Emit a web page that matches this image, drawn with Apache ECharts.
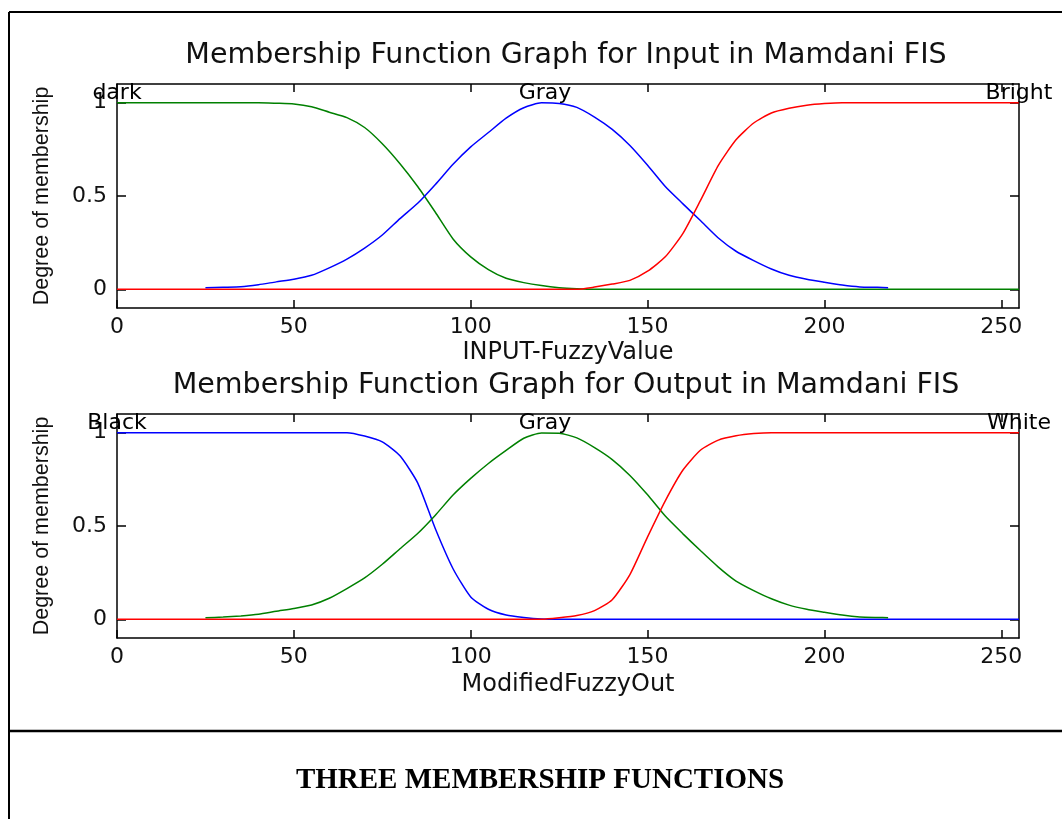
<!DOCTYPE html>
<html>
<head>
<meta charset="utf-8">
<title>Three membership functions</title>
<script src="https://cdn.jsdelivr.net/npm/echarts@6/dist/echarts.min.js"></script>
<style>
  html, body { margin: 0; padding: 0; background: #ffffff; }
  #chart { width: 1062px; height: 819px; }
</style>
</head>
<body>
<div id="chart"></div>
<script>
// Sample positions on the 0..255 intensity range
const xFull = [0, 5, 10, 15, 20, 25, 30, 35, 40, 45, 50, 55, 60, 65, 70, 75, 80, 85, 90, 95,
  100, 105, 110, 115, 120, 125, 130, 135, 140, 145, 150, 155, 160, 165, 170, 175, 180, 185, 190, 195,
  200, 205, 210, 215, 220, 225, 230, 235, 240, 245, 250, 255];
// The middle ("Gray") function is only defined over part of the range
const xGray = [25, 30, 35, 40, 45, 50, 55, 60, 65, 70, 75, 80, 85, 90, 95, 100, 105, 110, 115, 120,
  125, 130, 135, 140, 145, 150, 155, 160, 165, 170, 175, 180, 185, 190, 195, 200, 205, 210, 215, 218];

// Input FIS memberships
const darkIn = [1, 1, 1, 1, 1, 1, 1, 1, 1, 0.997, 0.993, 0.978, 0.949, 0.92, 0.867, 0.78, 0.673, 0.551, 0.413, 0.27,
  0.174, 0.106, 0.059, 0.036, 0.02, 0.009, 0.003, 0, 0, 0, 0, 0, 0, 0, 0, 0, 0, 0, 0, 0,
  0, 0, 0, 0, 0, 0, 0, 0, 0, 0, 0, 0];
const grayIn = [0.008, 0.011, 0.014, 0.025, 0.04, 0.054, 0.075, 0.115, 0.162, 0.221, 0.291, 0.379, 0.461, 0.562, 0.67, 0.763, 0.84, 0.917, 0.973, 0.999,
  0.996, 0.975, 0.923, 0.857, 0.771, 0.665, 0.551, 0.458, 0.367, 0.275, 0.204, 0.154, 0.109, 0.075, 0.054, 0.038, 0.023, 0.013, 0.011, 0.009];
const brightIn = [0, 0, 0, 0, 0, 0, 0, 0, 0, 0, 0, 0, 0, 0, 0, 0, 0, 0, 0, 0,
  0, 0, 0, 0, 0, 0, 0, 0.012, 0.028, 0.048, 0.097, 0.174, 0.3, 0.478, 0.664, 0.801, 0.891, 0.945, 0.97, 0.986,
  0.995, 1, 1, 1, 1, 1, 1, 1, 1, 1, 1, 1];

// Output FIS memberships
const blackOut = [1, 1, 1, 1, 1, 1, 1, 1, 1, 1, 1, 1, 1, 1, 0.982, 0.951, 0.876, 0.731, 0.485, 0.271,
  0.12, 0.054, 0.023, 0.01, 0.002, 0, 0, 0, 0, 0, 0, 0, 0, 0, 0, 0, 0, 0, 0, 0,
  0, 0, 0, 0, 0, 0, 0, 0, 0, 0, 0, 0];
const grayOut = [0.009, 0.012, 0.018, 0.027, 0.043, 0.058, 0.077, 0.113, 0.165, 0.222, 0.295, 0.378, 0.46, 0.558, 0.666, 0.755, 0.835, 0.905, 0.97, 0.998,
  0.997, 0.972, 0.92, 0.856, 0.771, 0.667, 0.553, 0.458, 0.367, 0.28, 0.205, 0.154, 0.11, 0.076, 0.054, 0.038, 0.023, 0.013, 0.01, 0.009];
const whiteOut = [0, 0, 0, 0, 0, 0, 0, 0, 0, 0, 0, 0, 0, 0, 0, 0, 0, 0, 0, 0,
  0, 0, 0, 0, 0, 0.008, 0.02, 0.047, 0.105, 0.24, 0.442, 0.635, 0.8, 0.907, 0.96, 0.983, 0.995, 1, 1, 1,
  1, 1, 1, 1, 1, 1, 1, 1, 1, 1, 1, 1];

// Function names, written at each function's peak
const labelsIn = ['dark', 'Gray', 'Bright'];
const labelsOut = ['Black', 'Gray', 'White'];
const peaks = [0, 121, 255];

// Axis ticks
const xTicks = [0, 50, 100, 150, 200, 250];
const yTicks = [0, 0.5, 1];

const titles = ['Membership Function Graph for Input in Mamdani FIS',
  'Membership Function Graph for Output in Mamdani FIS'];
const xNames = ['INPUT-FuzzyValue', 'ModifiedFuzzyOut'];
const yName = 'Degree of membership';
const caption = 'THREE MEMBERSHIP FUNCTIONS';

const GREEN = '#008000', BLUE = '#0000ff', RED = '#ff0000';
const INK = '#111111';
const SANS = 'DejaVu Sans';

const pairs = (xs, ys) => xs.map((x, i) => [x, ys[i]]);

const boxLine = { show: true, onZero: false, lineStyle: { color: '#000', width: 1.5 } };
const tickStyle = { color: '#000', width: 1.5 };

function xAxes(grid, name, gap) {
  return [
    {
      type: 'value', gridIndex: grid, position: 'bottom', min: 0, max: 255,
      axisLine: boxLine,
      axisTick: { show: true, inside: true, length: 8, customValues: xTicks, lineStyle: tickStyle },
      axisLabel: { customValues: xTicks, margin: 8, fontFamily: SANS, fontSize: 22, color: INK },
      splitLine: { show: false },
      name: name, nameLocation: 'middle', nameGap: gap,
      nameTextStyle: { fontFamily: SANS, fontSize: 24, color: INK }
    },
    {
      type: 'value', gridIndex: grid, position: 'top', min: 0, max: 255,
      axisLine: boxLine,
      axisTick: { show: true, inside: true, length: 8, customValues: xTicks, lineStyle: tickStyle },
      axisLabel: { show: false },
      splitLine: { show: false }
    }
  ];
}

function yAxes(grid) {
  return [
    {
      type: 'value', gridIndex: grid, position: 'left', min: -0.1, max: 1.1,
      axisLine: boxLine,
      axisTick: { show: true, inside: true, length: 9, customValues: yTicks, lineStyle: tickStyle },
      axisLabel: { customValues: yTicks, margin: 10, fontFamily: SANS, fontSize: 22, color: INK },
      splitLine: { show: false },
      name: yName, nameLocation: 'middle', nameGap: 64,
      nameTextStyle: { fontFamily: 'Liberation Sans', fontSize: 21.5, color: INK }
    },
    {
      type: 'value', gridIndex: grid, position: 'right', min: -0.1, max: 1.1,
      axisLine: boxLine,
      axisTick: { show: true, inside: true, length: 9, customValues: yTicks, lineStyle: tickStyle },
      axisLabel: { show: false },
      splitLine: { show: false }
    }
  ];
}

function curve(name, xs, ys, color, xi, yi) {
  return {
    type: 'line', name: name, xAxisIndex: xi, yAxisIndex: yi,
    data: pairs(xs, ys),
    showSymbol: false, symbol: 'none',
    smooth: 0.2,
    lineStyle: { color: color, width: 1.5 },
    emphasis: { disabled: true },
    animation: false
  };
}

function nameMarks(labels, xi, yi) {
  return {
    type: 'scatter', xAxisIndex: xi, yAxisIndex: yi,
    data: labels.map((t, i) => ({ name: t, value: [peaks[i], 1] })),
    symbolSize: 0, itemStyle: { color: '#000000' },
    clip: false, silent: true, z: 5,
    label: {
      show: true, position: 'top', distance: -2, formatter: '{b}',
      fontFamily: SANS, fontSize: 22, lineHeight: 22, color: '#000000', opacity: 1
    },
    emphasis: { disabled: true },
    animation: false
  };
}

const chart = echarts.init(document.getElementById('chart'), null, { renderer: 'canvas' });

chart.setOption({
  backgroundColor: '#ffffff',
  animation: false,
  title: [
    {
      text: titles[0], left: 566, top: 41, textAlign: 'center', padding: 0,
      textStyle: { fontFamily: SANS, fontSize: 28.5, lineHeight: 30, fontWeight: 'normal', color: INK }
    },
    {
      text: titles[1], left: 566, top: 371, textAlign: 'center', padding: 0,
      textStyle: { fontFamily: SANS, fontSize: 28.5, lineHeight: 30, fontWeight: 'normal', color: INK }
    }
  ],
  grid: [
    { left: 117, top: 84, width: 902, height: 224 },
    { left: 117, top: 414, width: 902, height: 224 }
  ],
  xAxis: [...xAxes(0, xNames[0], 33), ...xAxes(1, xNames[1], 35)],
  yAxis: [...yAxes(0), ...yAxes(1)],
  series: [
    curve('dark', xFull, darkIn, GREEN, 0, 0),
    curve('Gray', xGray, grayIn, BLUE, 0, 0),
    curve('Bright', xFull, brightIn, RED, 0, 0),
    nameMarks(labelsIn, 0, 0),
    curve('Black', xFull, blackOut, BLUE, 2, 2),
    curve('Gray', xGray, grayOut, GREEN, 2, 2),
    curve('White', xFull, whiteOut, RED, 2, 2),
    nameMarks(labelsOut, 2, 2)
  ],
  graphic: [
    { type: 'line', shape: { x1: 9, y1: 12, x2: 1062, y2: 12 }, style: { stroke: '#000', lineWidth: 2 }, silent: true },
    { type: 'line', shape: { x1: 9, y1: 12, x2: 9, y2: 819 }, style: { stroke: '#000', lineWidth: 2 }, silent: true },
    { type: 'line', shape: { x1: 9, y1: 731, x2: 1062, y2: 731 }, style: { stroke: '#000', lineWidth: 2.5 }, silent: true },
    {
      type: 'text', x: 540, y: 781, silent: true,
      style: {
        text: caption, fill: '#000', textAlign: 'center', textVerticalAlign: 'middle',
        font: 'bold 29px "Liberation Serif", "Times New Roman", serif'
      }
    }
  ]
});
</script>
</body>
</html>
